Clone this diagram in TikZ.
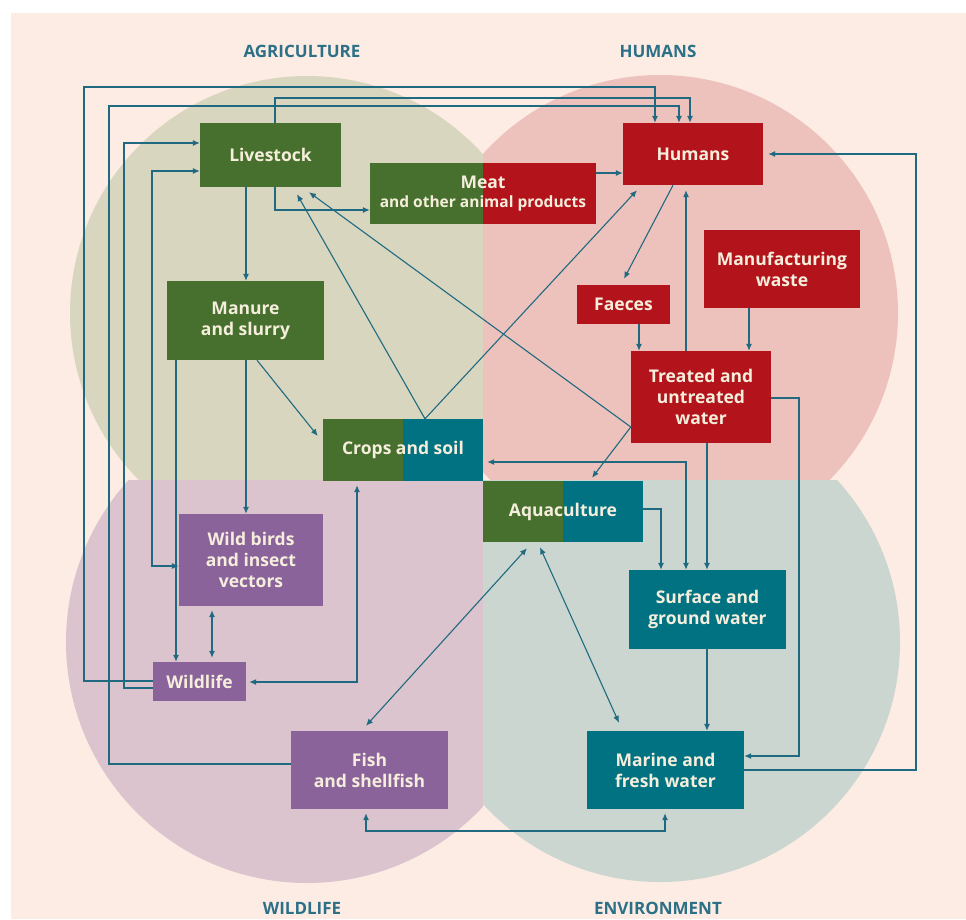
\documentclass[tikz,border=0pt]{standalone}
\usepackage{fontspec}
\setmainfont{Open Sans}
\usetikzlibrary{arrows.meta,calc}
\definecolor{peach}{HTML}{FDECE3}
\definecolor{agric}{HTML}{D9D6C0}
\definecolor{humc}{HTML}{EEC2BC}
\definecolor{wildc}{HTML}{DBC4CD}
\definecolor{envc}{HTML}{CBD6D0}
\definecolor{bgreen}{HTML}{47702E}
\definecolor{bred}{HTML}{B3141C}
\definecolor{bteal}{HTML}{007282}
\definecolor{bpurple}{HTML}{8A639B}
\definecolor{arrc}{HTML}{1F6A80}
\definecolor{labc}{HTML}{2C7088}
\definecolor{txtc}{HTML}{F6EEDC}
\tikzset{
  box/.style={rectangle, inner sep=0pt, align=center, text=txtc,
    font=\bfseries\fontsize{17.5}{21}\selectfont},
  splitbox/.style 2 args={box, path picture={
    \fill[#1] (path picture bounding box.south west) rectangle (path picture bounding box.north);
    \fill[#2] (path picture bounding box.north) rectangle (path picture bounding box.south east);}},
  lab/.style={text=labc, font=\bfseries\fontsize{17}{20}\selectfont},
  arr/.style={draw=arrc, line width=1.1pt, -{Latex[length=7pt,width=6pt]}},
  arrb/.style={draw=arrc, line width=1.1pt, {Latex[length=7pt,width=6pt]}-{Latex[length=7pt,width=6pt]}},
}
\begin{document}
\begin{tikzpicture}[x=1pt,y=-1pt]
\useasboundingbox (0,0) rectangle (966,919);
\fill[white] (0,0) rectangle (966,919);
\fill[peach] (11,13) rectangle (966,919);
% quadrant circles
\begin{scope}
  \clip (11,13) rectangle (483,480);
  \fill[agric] (307,313) circle[radius=237pt];
\end{scope}
\begin{scope}
  \clip (483,13) rectangle (966,480);
  \fill[humc] (660,313) circle[radius=238pt];
\end{scope}
\begin{scope}
  \clip (11,480) rectangle (483,919);
  \fill[wildc] (307,642) circle[radius=241pt];
\end{scope}
\begin{scope}
  \clip (483,480) rectangle (966,919);
  \fill[envc] (660,642) circle[radius=240pt];
\end{scope}
% section labels
\node[lab] (lagr) at (302,51) {AGRICULTURE};
\node[lab] (lhum) at (658,51) {HUMANS};
\node[lab] (lwil) at (302,908) {WILDLIFE};
\node[lab] (lenv) at (658,908) {ENVIRONMENT};
% boxes
\node[box, fill=bgreen, minimum width=141pt, minimum height=64pt] (live) at (270.5,155) {Livestock};
\node[splitbox={bgreen}{bred}, minimum width=226pt, minimum height=61pt] (meat) at (483,193.5)
  {Meat\\[-2pt]{\fontsize{15.5}{18}\selectfont and other animal products}};
\node[box, fill=bred, minimum width=140pt, minimum height=62pt] (hum) at (693,154) {Humans};
\node[box, fill=bred, minimum width=156pt, minimum height=78pt] (mfg) at (782,269) {Manufacturing\\waste};
\node[box, fill=bred, minimum width=93pt, minimum height=39pt] (faeces) at (623.5,304.5) {Faeces};
\node[box, fill=bred, minimum width=140pt, minimum height=92pt] (treat) at (701,397) {Treated and\\untreated\\water};
\node[box, fill=bgreen, minimum width=157pt, minimum height=79pt] (manure) at (245.5,320.5) {Manure\\and slurry};
\node[splitbox={bgreen}{bteal}, minimum width=160pt, minimum height=62pt] (crops) at (403,450) {Crops and soil};
\node[splitbox={bgreen}{bteal}, minimum width=160pt, minimum height=61pt] (aqua) at (563,511.5) {Aquaculture};
\node[box, fill=bteal, minimum width=157pt, minimum height=79pt] (surf) at (707.5,609.5) {Surface and\\ground water};
\node[box, fill=bpurple, minimum width=144pt, minimum height=92pt] (birds) at (251,560) {Wild birds\\and insect\\vectors};
\node[box, fill=bpurple, minimum width=93pt, minimum height=39pt] (wl) at (199.5,681.5) {Wildlife};
\node[box, fill=bpurple, minimum width=157pt, minimum height=78pt] (fish) at (369.5,770) {Fish\\and shellfish};
\node[box, fill=bteal, minimum width=157pt, minimum height=78pt] (marine) at (665.5,770) {Marine and\\fresh water};
% connectors
\draw[arr] (wl.west |- 0,681) -| (84,87) -| (hum.north -| 655,0);
\draw[arr] (fish.west |- 0,764) -| (109,106) -| (hum.north -| 679,0);
\draw[arr] (live.north -| 275,0) |- (690,98) -- (hum.north -| 690,0);
\draw[arr] (wl.west |- 0,688) -| (124,143) -- (live.west |- 0,143);
\draw[arrb] (birds.west |- 0,566) -| (152,171) -- (live.west |- 0,171);
\draw[arr] (live.south -| 246,0) -- (manure.north -| 246,0);
\draw[arr] (live.south -| 275,0) |- (meat.west |- 0,210);
\draw[arr] (crops.north -| 425,0) -- ($(live.south -| 297,0)+(0,7)$);
\draw[arr] (crops.north -| 425,0) -- ($(hum.south -| 637,0)+(0,5)$);
\draw[arr] (treat.west |- 0,427) -- ($(live.south -| 309,0)+(0,5)$);
\draw[arr] (treat.west |- 0,427) -- ($(aqua.north -| 592,0)+(0,-3)$);
\draw[arr] (hum.south -| 673,0) -- ($(faeces.north -| 624,0)+(0,-6)$);
\draw[arr] (faeces.south -| 639,0) -- (treat.north -| 639,0);
\draw[arr] (mfg.south -| 749,0) -- (treat.north -| 749,0);
\draw[arr] (treat.north -| 686,0) -- ($(hum.south -| 686,0)+(0,5)$);
\draw[arr] (marine.east |- 0,770) -| (916,154) -- ($(hum.east |- 0,154)+(5,0)$);
\draw[arr] (meat.east |- 0,173) -- (hum.west |- 0,173);
\draw[arr] (manure.south -| 257,0) -- ($(crops.west |- 0,436)+(-5,0)$);
\draw[arr] (manure.south -| 246,0) -- (birds.north -| 246,0);
\draw[arr] (manure.south -| 176,0) -- (wl.north -| 176,0);
\draw[arrb, shorten <=4pt, shorten >=4pt] (birds.south -| 212,0) -- (wl.north -| 212,0);
\draw[arrb, shorten <=3pt, shorten >=4pt] (wl.east |- 0,682) -| (crops.south -| 357,0);
\draw[arrb, shorten <=4pt] (crops.east |- 0,462) -| (surf.north -| 686,0);
\draw[arr] (treat.south -| 707,0) -- (surf.north -| 707,0);
\draw[arr] (aqua.east |- 0,509) -| (surf.north -| 661,0);
\draw[arr] (treat.east |- 0,398) -| (799,756) -- (marine.east |- 0,756);
\draw[arr] (surf.south -| 707,0) -- (marine.north -| 707,0);
\draw[arrb] ($(aqua.south -| 527,0)+(0,6)$) -- ($(fish.north -| 366,0)+(0,-5)$);
\draw[arrb] ($(aqua.south -| 540,0)+(0,5)$) -- ($(marine.north -| 619,0)+(0,-8)$);
\draw[arrb, shorten <=4pt, shorten >=4pt] (fish.south -| 366,0) |- (665,831) -- (marine.south -| 665,0);
\end{tikzpicture}
\end{document}
